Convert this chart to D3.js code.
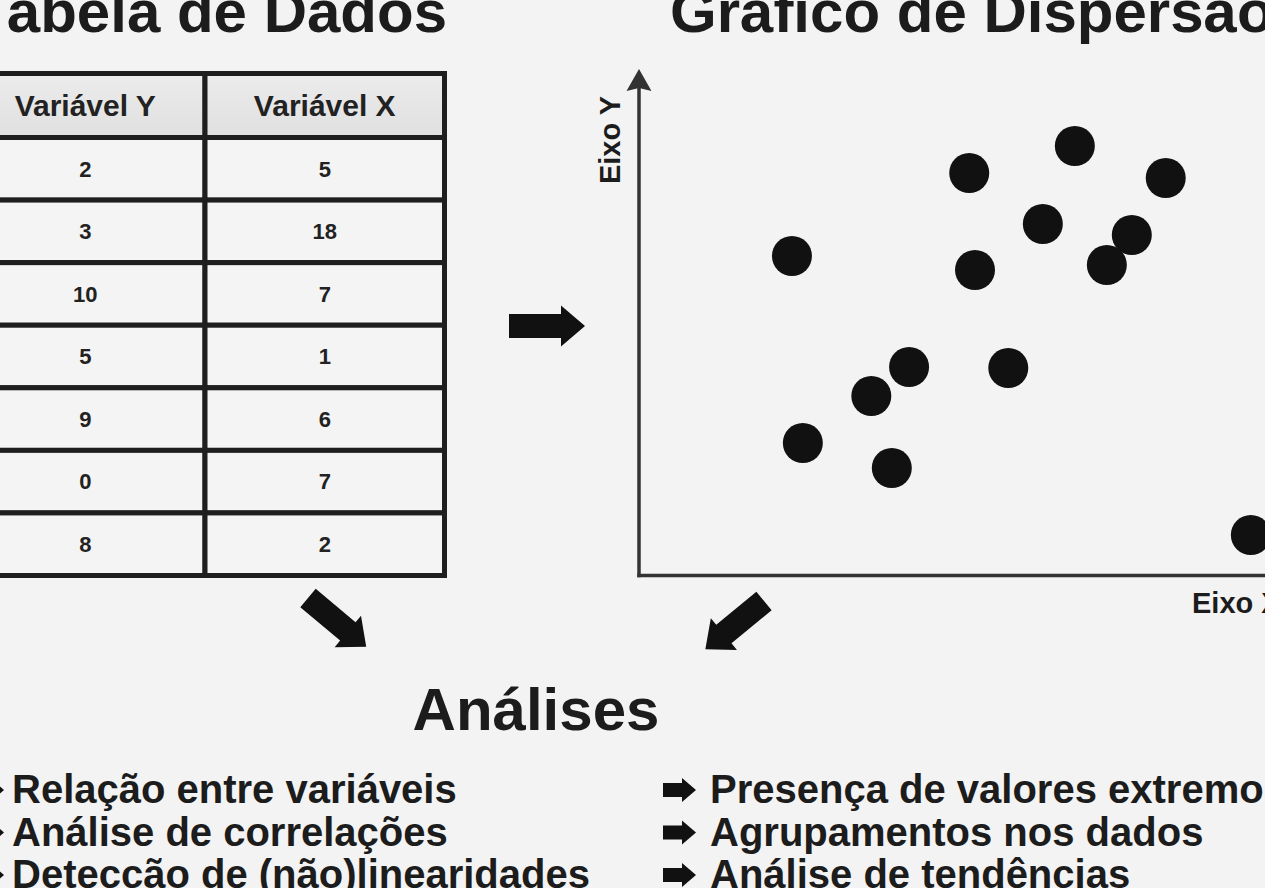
<!DOCTYPE html>
<html>
<head>
<meta charset="utf-8">
<script src="https://cdn.jsdelivr.net/npm/d3@7"></script>
<style>
    html, body { margin: 0; padding: 0; background: #f3f3f3; overflow: hidden; }
    svg { display: block; font-family: "Liberation Sans", Arial, Helvetica, sans-serif; }
</style>
</head>
<body>
<div id="chart"></div>
<script>
"use strict"

// data table
const tableHeaders = ["Variável Y", "Variável X"];
const tableY = [2, 3, 10, 5, 9, 0, 8];
const tableX = [5, 18, 7, 1, 6, 7, 2];

// scatter points (0..10 on both axes)
const scatterX = [2.39, 5.16, 6.81, 8.23, 6.31, 7.70, 5.25, 7.31, 4.22, 5.77, 3.63, 2.56, 3.95, 9.56];
const scatterY = [6.39, 8.05, 8.59, 7.95, 7.03, 6.81, 6.11, 6.21, 4.17, 4.15, 3.59, 2.65, 2.15, 0.81];

// texts
const titleTable = "Tabela de Dados";
const titleScatter = "Gráfico de Dispersão";
const titleAnalysis = "Análises";
const axisLabelY = "Eixo Y";
const axisLabelX = "Eixo X";
const bulletsLeft = ["Relação entre variáveis", "Análise de correlações", "Detecção de (não)linearidades"];
const bulletsRight = ["Presença de valores extremos", "Agrupamentos nos dados", "Análise de tendências"];

const width = 1265, height = 888;
const ink = "#1c1c1c";

const svg = d3.select("#chart").append("svg")
    .attr("width", width)
    .attr("height", height);

svg.append("rect")
    .attr("width", width)
    .attr("height", height)
    .attr("fill", "#f3f3f3");

/* block arrow pointing along +x, tail at origin */
function blockArrow(len, shaftW, headW, headL) {
    let p = d3.path();
    p.moveTo(0, -shaftW / 2);
    p.lineTo(len - headL, -shaftW / 2);
    p.lineTo(len - headL, -headW / 2);
    p.lineTo(len, 0);
    p.lineTo(len - headL, headW / 2);
    p.lineTo(len - headL, shaftW / 2);
    p.lineTo(0, shaftW / 2);
    p.closePath();
    return p.toString();
}

// ---------- titles ----------
svg.append("text")
    .attr("x", 447)
    .attr("y", 32)
    .attr("text-anchor", "end")
    .style("font-size", "60px")
    .style("font-weight", "bold")
    .attr("fill", ink)
    .text(titleTable);

svg.append("text")
    .attr("x", 670)
    .attr("y", 32)
    .style("font-size", "60px")
    .style("font-weight", "bold")
    .attr("fill", ink)
    .text(titleScatter);

// ---------- table ----------
let defs = svg.append("defs");
let grad = defs.append("linearGradient")
    .attr("id", "headFill")
    .attr("x1", 0).attr("y1", 0).attr("x2", 0).attr("y2", 1);
grad.append("stop").attr("offset", "0%").attr("stop-color", "#ececec");
grad.append("stop").attr("offset", "100%").attr("stop-color", "#e0e0e0");

const colScale = d3.scaleBand().domain([0, 1]).range([-34.5, 444.5]);
const rowScale = d3.scaleBand().domain(d3.range(tableY.length)).range([137.5, 575.5]);
const headTop = 73.5;

let table = svg.append("g").attr("class", "table");

table.selectAll(".headCell")
    .data(tableHeaders)
    .enter().append("rect")
    .attr("class", "headCell")
    .attr("x", (d, i) => colScale(i))
    .attr("y", headTop)
    .attr("width", colScale.bandwidth())
    .attr("height", rowScale.range()[0] - headTop)
    .attr("fill", "url(#headFill)")
    .attr("stroke", "#1e1e1e")
    .attr("stroke-width", 5);

table.selectAll(".headText")
    .data(tableHeaders)
    .enter().append("text")
    .attr("class", "headText")
    .attr("x", (d, i) => colScale(i) + colScale.bandwidth() / 2)
    .attr("y", (headTop + rowScale.range()[0]) / 2 + 10.5)
    .attr("text-anchor", "middle")
    .style("font-size", "30px")
    .style("font-weight", "bold")
    .attr("fill", "#222")
    .text(d => d);

let rows = tableY.map((y, i) => [y, tableX[i]]);

rows.forEach((row, r) => {
    row.forEach((val, c) => {
        table.append("rect")
            .attr("x", colScale(c))
            .attr("y", rowScale(r))
            .attr("width", colScale.bandwidth())
            .attr("height", rowScale.bandwidth())
            .attr("fill", "#f4f4f4")
            .attr("stroke", "#1e1e1e")
            .attr("stroke-width", 5);

        table.append("text")
            .attr("x", colScale(c) + colScale.bandwidth() / 2)
            .attr("y", rowScale(r) + rowScale.bandwidth() / 2 + 7.8)
            .attr("text-anchor", "middle")
            .style("font-size", "22px")
            .style("font-weight", "bold")
            .attr("fill", "#222")
            .text(val);
    });
});

// ---------- scatter ----------
const xScale = d3.scaleLinear().domain([0, 10]).range([639, 1279]);
const yScale = d3.scaleLinear().domain([0, 10]).range([575.5, 75.5]);

let plot = svg.append("g").attr("class", "scatter");
let x0 = xScale(0), y0 = yScale(0);

plot.append("line")
    .attr("x1", x0).attr("y1", y0 + 1.75)
    .attr("x2", x0).attr("y2", 86)
    .attr("stroke", "#333")
    .attr("stroke-width", 3.5);

plot.append("path")
    .attr("d", `M${x0},69 L${x0 + 12.5},91 L${x0},88 L${x0 - 12.5},91 Z`)
    .attr("fill", "#333");

plot.append("line")
    .attr("x1", x0 - 1.75).attr("y1", y0)
    .attr("x2", width + 10).attr("y2", y0)
    .attr("stroke", "#333")
    .attr("stroke-width", 3.5);

plot.selectAll(".dot")
    .data(scatterX.map((x, i) => ({ x: x, y: scatterY[i] })))
    .enter().append("circle")
    .attr("class", "dot")
    .attr("cx", d => xScale(d.x))
    .attr("cy", d => yScale(d.y))
    .attr("r", 20)
    .attr("fill", "#111");

plot.append("text")
    .attr("transform", "translate(620,140) rotate(-90)")
    .attr("text-anchor", "middle")
    .style("font-size", "29px")
    .style("font-weight", "bold")
    .attr("fill", ink)
    .text(axisLabelY);

plot.append("text")
    .attr("x", 1192)
    .attr("y", 613)
    .style("font-size", "29px")
    .style("font-weight", "bold")
    .attr("fill", ink)
    .text(axisLabelX);

// ---------- flow arrows ----------
const bigArrow = blockArrow(76, 24, 41, 24);
[
    { x: 509, y: 326, a: 0 },
    { x: 308, y: 598, a: 40 },
    { x: 764, y: 601, a: 140.5 }
].forEach(d => {
    svg.append("path")
        .attr("d", bigArrow)
        .attr("transform", `translate(${d.x},${d.y}) rotate(${d.a})`)
        .attr("fill", "#111");
});

// ---------- analyses ----------
svg.append("text")
    .attr("x", 536)
    .attr("y", 730)
    .attr("text-anchor", "middle")
    .style("font-size", "60px")
    .style("font-weight", "bold")
    .attr("fill", ink)
    .text(titleAnalysis);

const bulletArrow = blockArrow(33, 14, 24, 14);
const lineY = d3.scaleLinear().domain([0, 1]).range([803, 845.5]);

function drawBullets(list, arrowX, textX) {
    let g = svg.append("g");
    list.forEach((t, i) => {
        g.append("path")
            .attr("d", bulletArrow)
            .attr("transform", `translate(${arrowX},${lineY(i) - 13})`)
            .attr("fill", "#111");
        g.append("text")
            .attr("x", textX)
            .attr("y", lineY(i))
            .style("font-size", "40px")
            .style("font-weight", "bold")
            .attr("fill", ink)
            .text(t);
    });
}

drawBullets(bulletsLeft, -29, 12);
drawBullets(bulletsRight, 663, 710);
</script>
</body>
</html>
